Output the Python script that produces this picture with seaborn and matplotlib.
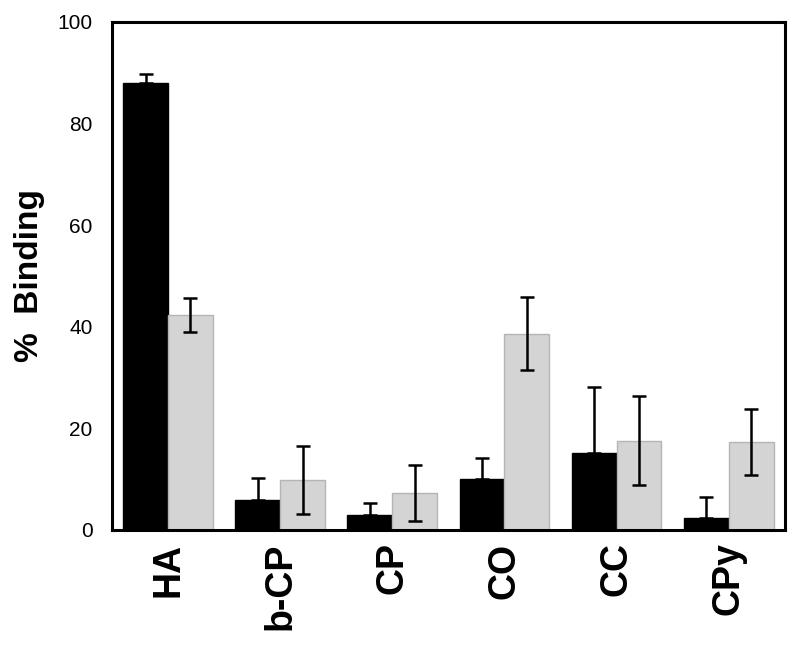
import numpy as np
import pandas as pd
import matplotlib
matplotlib.use("Agg")
import matplotlib.pyplot as plt
import seaborn as sns

# values
compounds = ["HA", "b-CP", "CP", "CO", "CC", "CPy"]
black_vals = [88.0, 5.8, 3.0, 10.0, 15.2, 2.4]
black_err = [1.8, 4.5, 2.3, 4.2, 12.9, 4.0]
gray_vals = [42.3, 9.9, 7.3, 38.6, 17.6, 17.3]
gray_err = [3.3, 6.7, 5.5, 7.2, 8.7, 6.5]
series = ["A", "B"]

data = pd.DataFrame({
    "Compound": compounds * 2,
    "Binding": black_vals + gray_vals,
    "Series": [series[0]] * len(compounds) + [series[1]] * len(compounds),
})

sns.set_style("white")
plt.rcParams["font.family"] = ["Liberation Sans", "DejaVu Sans"]

fig = plt.figure(figsize=(8, 6.47), dpi=100)
ax = fig.add_axes([0.14, 0.181, 0.841, 0.785])

sns.barplot(data=data, x="Compound", y="Binding", hue="Series",
            palette=["#000000", "#d4d4d4"], errorbar=None, width=0.8,
            saturation=1, ax=ax, legend=False)

# edge colours and error bars
n = len(compounds)
patches = ax.patches[:2 * n]
for i, p in enumerate(patches):
    if i < n:
        p.set_edgecolor("#000000")
    else:
        p.set_edgecolor("#b5b5b5")
    p.set_linewidth(1.0)

bx = [p.get_x() + p.get_width() / 2 for p in patches[:n]]
gx = [p.get_x() + p.get_width() / 2 for p in patches[n:]]
ax.errorbar(bx, black_vals, yerr=[np.zeros(n), black_err], fmt="none",
            ecolor="black", elinewidth=1.8, capsize=4.7, capthick=1.8, zorder=3)
ax.errorbar(gx, gray_vals, yerr=gray_err, fmt="none",
            ecolor="black", elinewidth=1.8, capsize=4.7, capthick=1.8, zorder=3)

ax.set_ylim(0, 100)
ax.set_xlim(-0.5, n - 0.5)
ax.set_yticks([0, 20, 40, 60, 80, 100])
ax.tick_params(axis="y", length=0, pad=14, labelsize=15, labelcolor="black")
ax.tick_params(axis="x", length=0, pad=9, labelsize=27, labelcolor="black")
for lab in ax.get_xticklabels():
    lab.set_rotation(90)
    lab.set_fontweight("bold")

ax.set_xlabel("")
ax.set_ylabel("%  Binding", fontsize=24, fontweight="bold", labelpad=9, color="black")

for s in ax.spines.values():
    s.set_visible(True)
    s.set_linewidth(2.2)
    s.set_color("black")

fig.savefig("out.png", dpi=100)
